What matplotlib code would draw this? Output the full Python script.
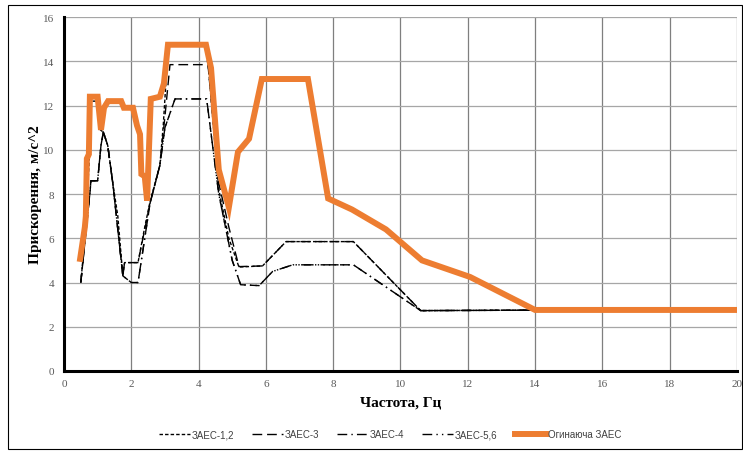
import matplotlib
matplotlib.use("Agg")
import matplotlib.pyplot as plt
from matplotlib.patches import Rectangle

# Response spectra, frequency (Hz) vs acceleration (m/s^2)
zaes12_f = [0.5, 0.62, 0.75, 0.8, 1.0, 1.08, 1.17, 1.3, 1.45, 1.6, 1.75, 1.8, 2.2, 2.4,
            2.55, 2.85, 2.95, 3.1, 4.2, 4.3, 4.6, 4.9, 5.2, 5.9, 6.6, 8.6, 10.6, 14.0]
zaes12_a = [4.0, 6.0, 9.5, 12.2, 12.2, 10.9, 10.8, 10.2, 8.5, 7.0, 4.3, 4.9, 4.9, 6.5,
            7.6, 9.3, 11.1, 14.75, 14.75, 13.6, 8.2, 6.0, 4.7, 4.75, 5.85, 5.85, 2.73, 2.75]

zaes3_f = [0.5, 0.78, 0.8, 1.0, 1.1, 1.17, 1.3, 1.45, 1.75, 1.8, 2.2, 2.56, 2.85, 3.0,
           3.15, 4.28, 4.6, 4.9, 5.2, 5.9, 6.6, 8.6, 10.6, 14.0]
zaes3_a = [4.0, 8.2, 8.6, 8.6, 10.2, 10.8, 10.2, 8.5, 4.3, 4.9, 4.9, 7.6, 9.3, 11.5,
           13.85, 13.85, 8.5, 6.5, 4.72, 4.75, 5.85, 5.85, 2.73, 2.75]

zaes4_f = [0.5, 0.78, 0.8, 1.0, 1.1, 1.17, 1.3, 1.45, 1.75, 2.0, 2.2, 2.56, 2.85, 3.0,
           3.3, 4.24, 4.6, 5.0, 5.25, 5.8, 6.2, 6.8, 8.6, 10.6, 14.0]
zaes4_a = [4.0, 8.2, 8.6, 8.6, 10.2, 10.8, 10.2, 8.5, 4.3, 4.0, 4.0, 7.6, 9.3, 11.0,
           12.3, 12.3, 8.0, 5.0, 3.9, 3.86, 4.5, 4.8, 4.8, 2.73, 2.75]

zaes56_f = [0.5, 0.78, 0.8, 1.0, 1.1, 1.17, 1.3, 1.45, 1.75, 2.0, 2.2, 2.56, 2.85, 3.0,
            3.3, 4.24, 4.6, 5.0, 5.25, 5.8, 6.2, 6.8, 8.6, 10.6, 14.0]
zaes56_a = [4.0, 8.2, 8.6, 8.6, 10.2, 10.8, 10.2, 8.5, 4.3, 4.0, 4.0, 7.6, 9.3, 11.0,
            12.3, 12.3, 8.0, 5.0, 3.9, 3.86, 4.5, 4.8, 4.8, 2.73, 2.75]

env_f = [0.48, 0.62, 0.65, 0.68, 0.74, 0.77, 1.0, 1.1, 1.19, 1.31, 1.7, 1.78, 2.05, 2.17,
         2.26, 2.3, 2.4, 2.47, 2.58, 2.85, 2.97, 3.09, 4.22, 4.37, 4.6, 4.9, 5.17, 5.5,
         5.88, 7.25, 7.85, 8.56, 9.57, 10.64, 12.07, 14.0, 20.0]
env_a = [5.07, 6.5, 7.0, 9.6, 9.8, 12.4, 12.4, 10.9, 11.9, 12.2, 12.2, 11.9, 11.9, 11.1,
         10.7, 8.9, 8.8, 7.7, 12.3, 12.4, 13.0, 14.75, 14.75, 13.7, 9.1, 7.4, 9.9, 10.5,
         13.2, 13.2, 7.8, 7.3, 6.4, 5.0, 4.25, 2.76, 2.76]

x_ticks = list(range(0, 21, 2))
y_ticks = list(range(0, 17, 2))

fig = plt.figure(figsize=(7.43, 4.52), dpi=100)
ax = fig.add_axes([0.0861, 0.177, 0.9058, 0.783])

# outer frame of the chart
fig.patches.append(Rectangle((8 / 743, 2 / 452), 734 / 743, 444 / 452,
                             transform=fig.transFigure, fill=False,
                             edgecolor="black", linewidth=0.8))

ax.plot(zaes12_f, zaes12_a, color="black", lw=1.0, linestyle=(0, (2.5, 1.5)), label="ЗАЕС-1,2")
ax.plot(zaes3_f, zaes3_a, color="black", lw=1.0, linestyle=(0, (7, 3.5)), label="ЗАЕС-3")
ax.plot(zaes4_f, zaes4_a, color="black", lw=1.0, linestyle=(0, (7, 3, 1, 3)), label="ЗАЕС-4")
ax.plot(zaes56_f, zaes56_a, color="black", lw=1.0, linestyle=(0, (7, 3, 1, 3, 1, 3)), label="ЗАЕС-5,6")
ax.plot(env_f, env_a, color="#ED7D31", lw=4.3, solid_joinstyle="miter", label="Огинаюча ЗАЕС")

ax.set_xlim(0, 20)
ax.set_ylim(0, 16)
ax.set_xticks(x_ticks)
ax.set_yticks(y_ticks)
ax.tick_params(length=0, labelsize=8, labelcolor="#595959", pad=7)
ax.tick_params(axis="x", pad=6)
for lab in ax.get_xticklabels() + ax.get_yticklabels():
    lab.set_fontfamily("Liberation Serif")

for x in x_ticks[1:]:
    ax.axvline(x, color="#7f7f7f", lw=0.9, zorder=0)
for y in y_ticks[1:]:
    ax.axhline(y, color="#a6a6a6", lw=0.9, zorder=0)

for s in ("top", "right"):
    ax.spines[s].set_visible(False)
for s in ("left", "bottom"):
    ax.spines[s].set_linewidth(2.2)
    ax.spines[s].set_color("black")

ax.set_xlabel("Частота, Гц", family="Liberation Serif", fontweight="bold", fontsize=11, labelpad=5)
ax.set_ylabel("Прискорення, м/с^2", family="Liberation Serif", fontweight="bold", fontsize=11, labelpad=1)

leg = fig.legend(loc="center", bbox_to_anchor=(0.525, 0.037), ncol=5, frameon=False,
                 prop={"family": "Liberation Sans", "size": 7}, handlelength=3.2,
                 columnspacing=1.8, handletextpad=0.2)
for t in leg.get_texts():
    t.set_color("#404040")

fig.savefig("out.png", dpi=100)
